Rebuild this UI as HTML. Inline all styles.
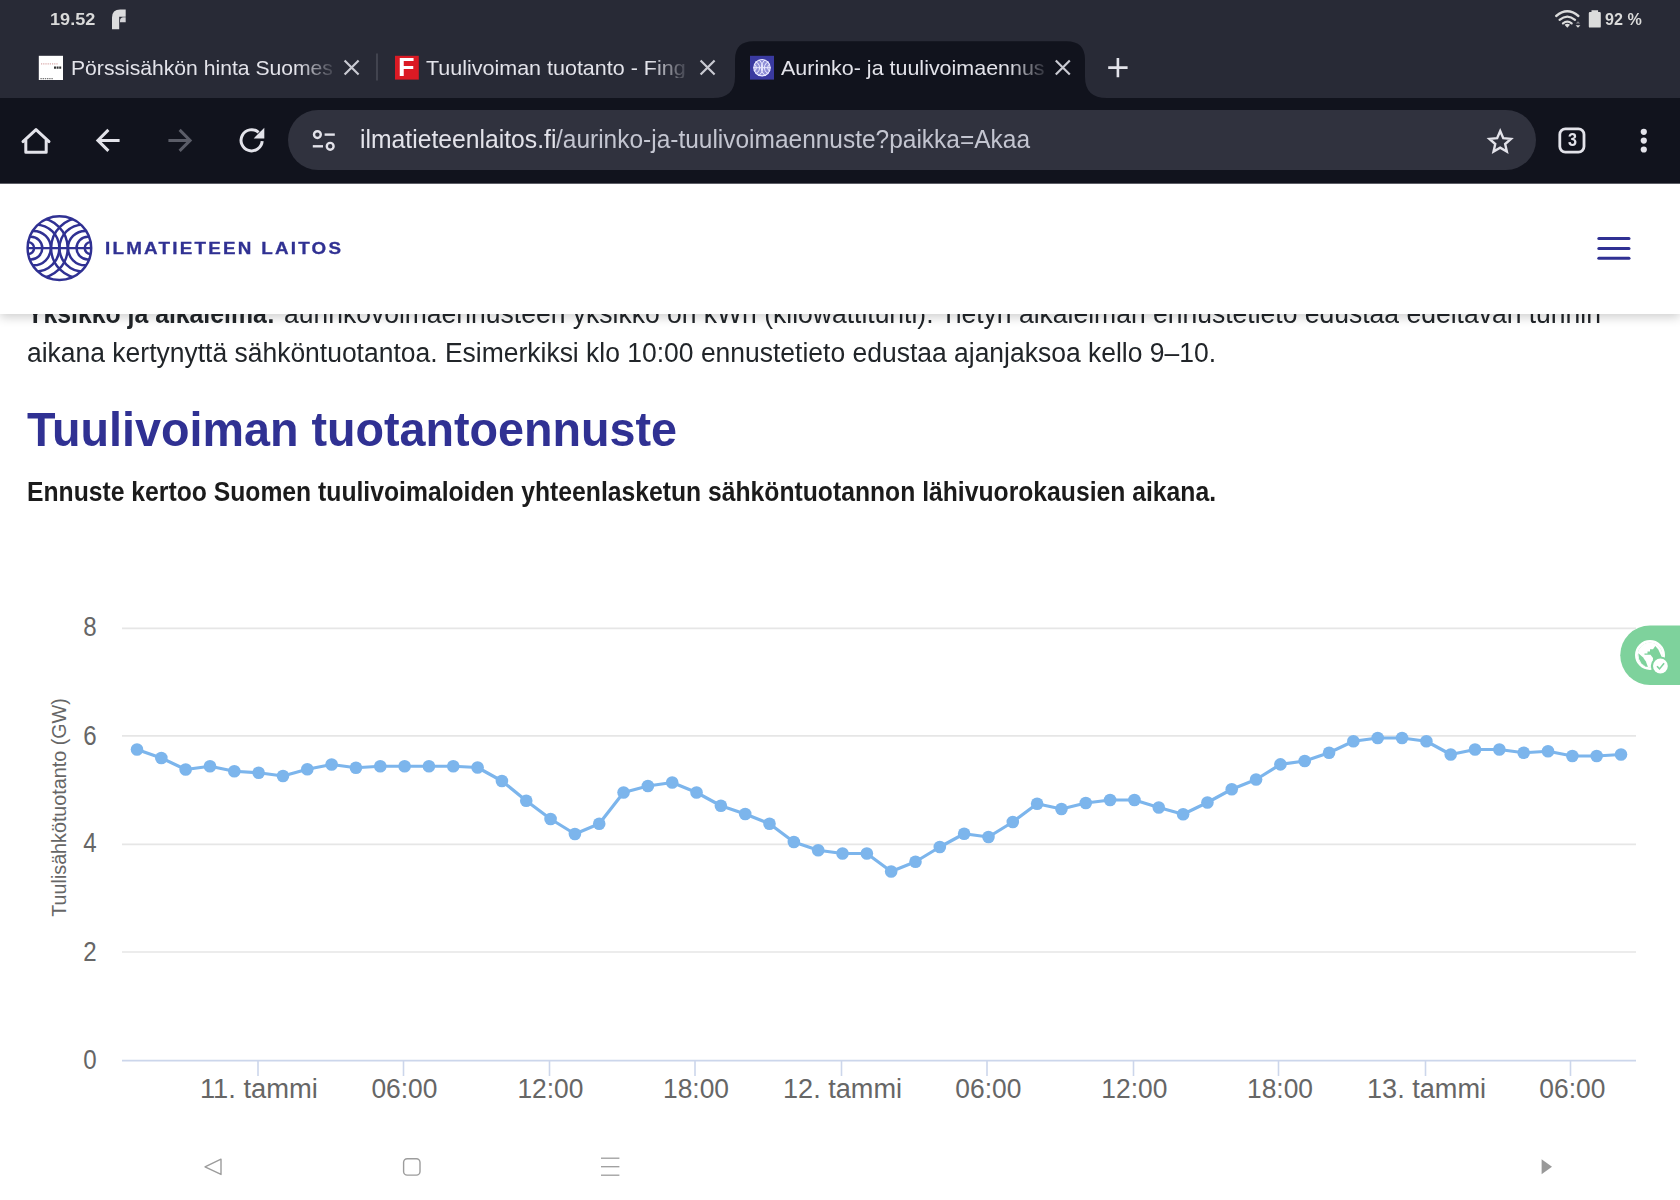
<!DOCTYPE html>
<html lang="fi"><head><meta charset="utf-8"><title>Aurinko- ja tuulivoimaennuste</title>
<style>
html,body{margin:0;padding:0;}
body{width:1680px;height:1200px;overflow:hidden;background:#fff;position:relative;font-family:"Liberation Sans", sans-serif;}
.t{position:absolute;white-space:nowrap;margin:0;padding:0;}
.abs{position:absolute;}
svg{position:absolute;left:0;top:0;overflow:visible;}
</style></head><body>

<div id="l1b" class="t" style="left:27px;top:300.94px;font-size:27px;line-height:27px;color:#212529;font-weight:700;letter-spacing:0px;transform:scaleX(0.9179);transform-origin:0 0;">Yksikkö ja aikaleima:</div>
<div id="l1" class="t" style="left:284px;top:300.94px;font-size:27px;line-height:27px;color:#212529;font-weight:400;letter-spacing:0px;transform:scaleX(0.9815);transform-origin:0 0;">aurinkovoimaennusteen yksikkö on kWh (kilowattitunti). Tietyn aikaleiman ennustetieto edustaa edeltävän tunnin</div>
<div id="l2" class="t" style="left:27px;top:340.04px;font-size:27px;line-height:27px;color:#212529;font-weight:400;letter-spacing:0px;transform:scaleX(0.9804);transform-origin:0 0;">aikana kertynyttä sähköntuotantoa. Esimerkiksi klo 10:00 ennustetieto edustaa ajanjaksoa kello 9–10.</div>
<div id="h2" class="t" style="left:27px;top:406.07px;font-size:48px;line-height:48px;color:#303193;font-weight:700;letter-spacing:0px;transform:scaleX(0.9724);transform-origin:0 0;">Tuulivoiman tuotantoennuste</div>
<div id="sub" class="t" style="left:27px;top:479.34px;font-size:27px;line-height:27px;color:#1b1b1b;font-weight:700;letter-spacing:0px;transform:scaleX(0.9152);transform-origin:0 0;">Ennuste kertoo Suomen tuulivoimaloiden yhteenlasketun sähköntuotannon lähivuorokausien aikana.</div>
<div class="abs" style="left:0;top:183px;width:1680px;height:131px;background:#fff;box-shadow:0 3px 10px rgba(0,0,0,0.2);"></div>
<div id="logo" class="t" style="left:105px;top:240.98px;font-size:16.8px;line-height:16.8px;color:#303193;font-weight:700;letter-spacing:2.0px;transform:scaleX(1.1211);transform-origin:0 0;-webkit-text-stroke:0.3px #303193;">ILMATIETEEN LAITOS</div>
<div class="abs" style="left:0;top:0;width:1680px;height:98px;background:#282a36;"></div>
<div class="abs" style="left:0;top:98px;width:1680px;height:85px;background:#11131d;"></div>
<div class="abs" style="left:0;top:183px;width:1680px;height:1px;background:#5d5e66;"></div>
<div class="abs" style="left:287.6px;top:110.2px;width:1248.2px;height:59.8px;border-radius:30px;background:#30323e;"></div>
<svg width="1680" height="1200" viewBox="0 0 1680 1200">
<path d="M122 628.4H1636" stroke="#e6e6e6" stroke-width="1.6" fill="none"/>
<path d="M122 735.9H1636" stroke="#e6e6e6" stroke-width="1.6" fill="none"/>
<path d="M122 844.4H1636" stroke="#e6e6e6" stroke-width="1.6" fill="none"/>
<path d="M122 952H1636" stroke="#e6e6e6" stroke-width="1.6" fill="none"/>
<path d="M122 1060.6H1636" stroke="#ccd6eb" stroke-width="1.8" fill="none"/>
<path d="M258 1060V1076" stroke="#ccd6eb" stroke-width="1.6" fill="none"/>
<path d="M403.5 1060V1076" stroke="#ccd6eb" stroke-width="1.6" fill="none"/>
<path d="M549.5 1060V1076" stroke="#ccd6eb" stroke-width="1.6" fill="none"/>
<path d="M695 1060V1076" stroke="#ccd6eb" stroke-width="1.6" fill="none"/>
<path d="M841.5 1060V1076" stroke="#ccd6eb" stroke-width="1.6" fill="none"/>
<path d="M987 1060V1076" stroke="#ccd6eb" stroke-width="1.6" fill="none"/>
<path d="M1133.5 1060V1076" stroke="#ccd6eb" stroke-width="1.6" fill="none"/>
<path d="M1278.5 1060V1076" stroke="#ccd6eb" stroke-width="1.6" fill="none"/>
<path d="M1425.5 1060V1076" stroke="#ccd6eb" stroke-width="1.6" fill="none"/>
<path d="M1570.5 1060V1076" stroke="#ccd6eb" stroke-width="1.6" fill="none"/>
<path d="M137.00 749.50 L161.33 758.00 L185.66 769.50 L209.98 766.25 L234.31 771.25 L258.64 772.75 L282.97 776.00 L307.30 769.25 L331.62 764.50 L355.95 767.75 L380.28 766.25 L404.61 766.25 L428.93 766.25 L453.26 766.25 L477.59 767.50 L501.92 781.00 L526.25 800.75 L550.57 819.00 L574.90 834.00 L599.23 823.75 L623.56 792.50 L647.89 786.00 L672.21 782.50 L696.54 792.50 L720.87 805.75 L745.20 814.00 L769.52 823.75 L793.85 842.00 L818.18 850.25 L842.51 853.50 L866.84 853.50 L891.16 871.50 L915.49 861.75 L939.82 847.00 L964.15 833.75 L988.48 837.00 L1012.80 822.00 L1037.13 803.75 L1061.46 809.00 L1085.79 803.00 L1110.11 800.00 L1134.44 800.00 L1158.77 807.50 L1183.10 814.25 L1207.43 802.50 L1231.75 789.25 L1256.08 779.50 L1280.41 764.40 L1304.74 761.00 L1329.07 752.75 L1353.39 741.25 L1377.72 738.00 L1402.05 738.00 L1426.38 741.25 L1450.70 754.50 L1475.03 749.50 L1499.36 749.50 L1523.69 752.75 L1548.02 751.25 L1572.34 756.00 L1596.67 756.00 L1621.00 754.50" stroke="#7cb5ec" stroke-width="3.2" fill="none" stroke-linejoin="round" stroke-linecap="round"/>
<circle cx="137.00" cy="749.50" r="6.3" fill="#7cb5ec"/>
<circle cx="161.33" cy="758.00" r="6.3" fill="#7cb5ec"/>
<circle cx="185.66" cy="769.50" r="6.3" fill="#7cb5ec"/>
<circle cx="209.98" cy="766.25" r="6.3" fill="#7cb5ec"/>
<circle cx="234.31" cy="771.25" r="6.3" fill="#7cb5ec"/>
<circle cx="258.64" cy="772.75" r="6.3" fill="#7cb5ec"/>
<circle cx="282.97" cy="776.00" r="6.3" fill="#7cb5ec"/>
<circle cx="307.30" cy="769.25" r="6.3" fill="#7cb5ec"/>
<circle cx="331.62" cy="764.50" r="6.3" fill="#7cb5ec"/>
<circle cx="355.95" cy="767.75" r="6.3" fill="#7cb5ec"/>
<circle cx="380.28" cy="766.25" r="6.3" fill="#7cb5ec"/>
<circle cx="404.61" cy="766.25" r="6.3" fill="#7cb5ec"/>
<circle cx="428.93" cy="766.25" r="6.3" fill="#7cb5ec"/>
<circle cx="453.26" cy="766.25" r="6.3" fill="#7cb5ec"/>
<circle cx="477.59" cy="767.50" r="6.3" fill="#7cb5ec"/>
<circle cx="501.92" cy="781.00" r="6.3" fill="#7cb5ec"/>
<circle cx="526.25" cy="800.75" r="6.3" fill="#7cb5ec"/>
<circle cx="550.57" cy="819.00" r="6.3" fill="#7cb5ec"/>
<circle cx="574.90" cy="834.00" r="6.3" fill="#7cb5ec"/>
<circle cx="599.23" cy="823.75" r="6.3" fill="#7cb5ec"/>
<circle cx="623.56" cy="792.50" r="6.3" fill="#7cb5ec"/>
<circle cx="647.89" cy="786.00" r="6.3" fill="#7cb5ec"/>
<circle cx="672.21" cy="782.50" r="6.3" fill="#7cb5ec"/>
<circle cx="696.54" cy="792.50" r="6.3" fill="#7cb5ec"/>
<circle cx="720.87" cy="805.75" r="6.3" fill="#7cb5ec"/>
<circle cx="745.20" cy="814.00" r="6.3" fill="#7cb5ec"/>
<circle cx="769.52" cy="823.75" r="6.3" fill="#7cb5ec"/>
<circle cx="793.85" cy="842.00" r="6.3" fill="#7cb5ec"/>
<circle cx="818.18" cy="850.25" r="6.3" fill="#7cb5ec"/>
<circle cx="842.51" cy="853.50" r="6.3" fill="#7cb5ec"/>
<circle cx="866.84" cy="853.50" r="6.3" fill="#7cb5ec"/>
<circle cx="891.16" cy="871.50" r="6.3" fill="#7cb5ec"/>
<circle cx="915.49" cy="861.75" r="6.3" fill="#7cb5ec"/>
<circle cx="939.82" cy="847.00" r="6.3" fill="#7cb5ec"/>
<circle cx="964.15" cy="833.75" r="6.3" fill="#7cb5ec"/>
<circle cx="988.48" cy="837.00" r="6.3" fill="#7cb5ec"/>
<circle cx="1012.80" cy="822.00" r="6.3" fill="#7cb5ec"/>
<circle cx="1037.13" cy="803.75" r="6.3" fill="#7cb5ec"/>
<circle cx="1061.46" cy="809.00" r="6.3" fill="#7cb5ec"/>
<circle cx="1085.79" cy="803.00" r="6.3" fill="#7cb5ec"/>
<circle cx="1110.11" cy="800.00" r="6.3" fill="#7cb5ec"/>
<circle cx="1134.44" cy="800.00" r="6.3" fill="#7cb5ec"/>
<circle cx="1158.77" cy="807.50" r="6.3" fill="#7cb5ec"/>
<circle cx="1183.10" cy="814.25" r="6.3" fill="#7cb5ec"/>
<circle cx="1207.43" cy="802.50" r="6.3" fill="#7cb5ec"/>
<circle cx="1231.75" cy="789.25" r="6.3" fill="#7cb5ec"/>
<circle cx="1256.08" cy="779.50" r="6.3" fill="#7cb5ec"/>
<circle cx="1280.41" cy="764.40" r="6.3" fill="#7cb5ec"/>
<circle cx="1304.74" cy="761.00" r="6.3" fill="#7cb5ec"/>
<circle cx="1329.07" cy="752.75" r="6.3" fill="#7cb5ec"/>
<circle cx="1353.39" cy="741.25" r="6.3" fill="#7cb5ec"/>
<circle cx="1377.72" cy="738.00" r="6.3" fill="#7cb5ec"/>
<circle cx="1402.05" cy="738.00" r="6.3" fill="#7cb5ec"/>
<circle cx="1426.38" cy="741.25" r="6.3" fill="#7cb5ec"/>
<circle cx="1450.70" cy="754.50" r="6.3" fill="#7cb5ec"/>
<circle cx="1475.03" cy="749.50" r="6.3" fill="#7cb5ec"/>
<circle cx="1499.36" cy="749.50" r="6.3" fill="#7cb5ec"/>
<circle cx="1523.69" cy="752.75" r="6.3" fill="#7cb5ec"/>
<circle cx="1548.02" cy="751.25" r="6.3" fill="#7cb5ec"/>
<circle cx="1572.34" cy="756.00" r="6.3" fill="#7cb5ec"/>
<circle cx="1596.67" cy="756.00" r="6.3" fill="#7cb5ec"/>
<circle cx="1621.00" cy="754.50" r="6.3" fill="#7cb5ec"/>
<text x="96.6" y="635.8" font-family='"Liberation Sans", sans-serif' font-size="27.2" fill="#666" text-anchor="end" textLength="13.4" lengthAdjust="spacingAndGlyphs" >8</text>
<text x="96.6" y="744.6" font-family='"Liberation Sans", sans-serif' font-size="27.2" fill="#666" text-anchor="end" textLength="13.4" lengthAdjust="spacingAndGlyphs" >6</text>
<text x="96.6" y="851.8" font-family='"Liberation Sans", sans-serif' font-size="27.2" fill="#666" text-anchor="end" textLength="13.4" lengthAdjust="spacingAndGlyphs" >4</text>
<text x="96.6" y="960.6" font-family='"Liberation Sans", sans-serif' font-size="27.2" fill="#666" text-anchor="end" textLength="13.4" lengthAdjust="spacingAndGlyphs" >2</text>
<text x="96.6" y="1069.2" font-family='"Liberation Sans", sans-serif' font-size="27.2" fill="#666" text-anchor="end" textLength="13.4" lengthAdjust="spacingAndGlyphs" >0</text>
<text x="258.9" y="1098" font-family='"Liberation Sans", sans-serif' font-size="26.8" fill="#666" text-anchor="middle" textLength="118" lengthAdjust="spacingAndGlyphs" >11. tammi</text>
<text x="404.4" y="1098" font-family='"Liberation Sans", sans-serif' font-size="26.8" fill="#666" text-anchor="middle" textLength="66" lengthAdjust="spacingAndGlyphs" >06:00</text>
<text x="550.4" y="1098" font-family='"Liberation Sans", sans-serif' font-size="26.8" fill="#666" text-anchor="middle" textLength="66" lengthAdjust="spacingAndGlyphs" >12:00</text>
<text x="696" y="1098" font-family='"Liberation Sans", sans-serif' font-size="26.8" fill="#666" text-anchor="middle" textLength="66" lengthAdjust="spacingAndGlyphs" >18:00</text>
<text x="842.5" y="1098" font-family='"Liberation Sans", sans-serif' font-size="26.8" fill="#666" text-anchor="middle" textLength="119" lengthAdjust="spacingAndGlyphs" >12. tammi</text>
<text x="988.3" y="1098" font-family='"Liberation Sans", sans-serif' font-size="26.8" fill="#666" text-anchor="middle" textLength="66" lengthAdjust="spacingAndGlyphs" >06:00</text>
<text x="1134.3" y="1098" font-family='"Liberation Sans", sans-serif' font-size="26.8" fill="#666" text-anchor="middle" textLength="66" lengthAdjust="spacingAndGlyphs" >12:00</text>
<text x="1280" y="1098" font-family='"Liberation Sans", sans-serif' font-size="26.8" fill="#666" text-anchor="middle" textLength="66" lengthAdjust="spacingAndGlyphs" >18:00</text>
<text x="1426.5" y="1098" font-family='"Liberation Sans", sans-serif' font-size="26.8" fill="#666" text-anchor="middle" textLength="119" lengthAdjust="spacingAndGlyphs" >13. tammi</text>
<text x="1572.3" y="1098" font-family='"Liberation Sans", sans-serif' font-size="26.8" fill="#666" text-anchor="middle" textLength="66" lengthAdjust="spacingAndGlyphs" >06:00</text>
<text transform="translate(66,807.5) rotate(-90)" font-family='"Liberation Sans", sans-serif' font-size="21" fill="#666" text-anchor="middle" textLength="218.5" lengthAdjust="spacingAndGlyphs">Tuulisähkötuotanto (GW)</text>
<path d="M1680 625.4H1650a29.8 29.8 0 0 0 0 59.6H1680Z" fill="#7ed29c"/>
<circle cx="1650" cy="655" r="13.6" fill="none" stroke="#fff" stroke-width="2.8"/>
<circle cx="1650" cy="655" r="12.4" fill="#fff"/>
<path d="M1644.5 653.5h3v-2h2.5v-2.2h3l2.3-3.2 3 3.5 3.2 6.8v4l-4.5 1-4 4.8v-8.2l-2.5-3.2h-6z" fill="#7ed29c"/>
<path d="M1638.3 653.3l4.6 4 3 4.2 2 5.6-2.5-.7-4-3.2-2.4-4.2z" fill="#7ed29c"/>
<circle cx="1660.4" cy="666" r="9.6" fill="#7ed29c"/>
<circle cx="1660.4" cy="666" r="7.4" fill="#fff"/>
<path d="M1657 666.3l2.5 2.6 4.6-5.6" stroke="#7ed29c" stroke-width="1.6" fill="none"/>
<clipPath id="lc"><circle cx="59.4" cy="248.1" r="31.8"/></clipPath>
<g fill="none" stroke="#303193" stroke-width="2.45">
<circle cx="59.4" cy="248.1" r="31.8"/>
<g clip-path="url(#lc)">
<path d="M27.599999999999998 248.1H91.2"/>
<circle cx="28.1" cy="248.1" r="6.0"/>
<circle cx="90.70" cy="248.1" r="6.0"/>
<circle cx="31.0" cy="248.1" r="11.3"/>
<circle cx="87.80" cy="248.1" r="11.3"/>
<circle cx="33.6" cy="248.1" r="17.2"/>
<circle cx="85.20" cy="248.1" r="17.2"/>
<circle cx="35.8" cy="248.1" r="23.5"/>
<circle cx="83.00" cy="248.1" r="23.5"/>
<circle cx="37.6" cy="248.1" r="30.1"/>
<circle cx="81.20" cy="248.1" r="30.1"/>
</g></g>
<path d="M1598.8 238.5H1629" stroke="#303193" stroke-width="3" stroke-linecap="round"/>
<path d="M1598.8 248.4H1629" stroke="#303193" stroke-width="3" stroke-linecap="round"/>
<path d="M1598.8 258.3H1629" stroke="#303193" stroke-width="3" stroke-linecap="round"/>
<path d="M221 1159.2L205 1166.8L221 1174.4Z" fill="none" stroke="#9c9c9c" stroke-width="1.4" stroke-linejoin="round"/>
<rect x="403.6" y="1158.7" width="16.4" height="16.4" rx="3.6" fill="none" stroke="#9c9c9c" stroke-width="1.4"/>
<path d="M601 1158.2H619.4" stroke="#9c9c9c" stroke-width="1.3"/>
<path d="M601 1166.7H619.4" stroke="#9c9c9c" stroke-width="1.3"/>
<path d="M601 1175.2H619.4" stroke="#9c9c9c" stroke-width="1.3"/>
<path d="M1541.6 1159.2V1174.2L1552 1166.7Z" fill="#999"/>
<path d="M713 98 Q735 98 735 77 V59.5 Q735 41.3 753.5 41.3 H1066.5 Q1085 41.3 1085 59.5 V77 Q1085 98 1107 98 Z" fill="#11131d"/>
<path d="M377 53.5V80.5" stroke="#454753" stroke-width="1.8"/>
<path d="M344.6 60.5L358.6 74.5M358.6 60.5L344.6 74.5" stroke="#c9cad2" stroke-width="2.2" fill="none"/>
<path d="M700.6 60.5L714.6 74.5M714.6 60.5L700.6 74.5" stroke="#c9cad2" stroke-width="2.2" fill="none"/>
<path d="M1055.8 60.5L1069.8 74.5M1069.8 60.5L1055.8 74.5" stroke="#c9cad2" stroke-width="2.2" fill="none"/>
<path d="M1108.2 67.6H1127.6M1117.9 57.9V77.3" stroke="#e3e3ea" stroke-width="2.6" fill="none"/>
<rect x="38.8" y="55.8" width="24.2" height="24.2" fill="#fff"/>
<path d="M41 63.8h17" stroke="#d9a9a9" stroke-width="1.3" stroke-dasharray="1.2 1"/><path d="M54 67.6h7.6" stroke="#333" stroke-width="2.4" stroke-dasharray="2 0.6"/><path d="M40.4 78.6h13" stroke="#777" stroke-width="1.2" stroke-dasharray="1.4 0.8"/>
<rect x="395" y="55.8" width="23.8" height="23.8" fill="#db1a24"/>
<rect x="750" y="55.8" width="24" height="23.8" fill="#3a3aa0"/>
<clipPath id="fc"><circle cx="762" cy="67.7" r="8.8"/></clipPath>
<circle cx="762" cy="67.7" r="8.8" fill="#8e8ed6"/>
<g fill="none" stroke="#ebebff" stroke-width="1" clip-path="url(#fc)"><circle cx="762" cy="67.7" r="8.3" stroke-width="1.4"/><path d="M753.4 67.7H770.6"/><circle cx="753" cy="67.7" r="3.4"/><circle cx="753" cy="67.7" r="6.6"/><circle cx="753" cy="67.7" r="9.8"/><circle cx="771" cy="67.7" r="3.4"/><circle cx="771" cy="67.7" r="6.6"/><circle cx="771" cy="67.7" r="9.8"/></g>
<path d="M112 29.2V17.6Q112 9.5 120.2 9.5H125.7V16.7H119.2V29.2Z" fill="#dcdcde"/><path d="M120 22.3V21Q120 17.3 123.6 17.3H125.7V22.3Z" fill="#d4d4d8"/>
<g fill="none" stroke="#dcdcdc" stroke-width="2.3" stroke-linecap="round"><path d="M1556.2 16Q1567.3 6.6 1578.4 16"/><path d="M1559.6 19.8Q1567.3 13.4 1575 19.8"/><path d="M1563 23.4Q1567.3 19.9 1571.6 23.4"/></g><path d="M1564.6 24.8L1567.3 27.7L1570 24.8Q1567.3 22.8 1564.6 24.8Z" fill="#dcdcdc"/><path d="M1575.6 25.2h4.8l-2.4 2.5z" fill="#dcdcdc"/><path d="M1575.8 23.4h4.4l-2.2-2.2z" fill="#85858c"/>
<path d="M1591.5 10.3h6.6v1.7h1.6q1.1 0 1.1 1.2v13.2q0 1.2-1.1 1.2h-9.8q-1.1 0-1.1-1.2V13.2q0-1.2 1.1-1.2h1.6z" fill="#dcdcdc"/>
<path d="M25.8 140V152.3H46.2V140" fill="none" stroke="#e3e3ea" stroke-width="3" stroke-linejoin="round"/>
<path d="M23 141.6L36 129.6L49 141.6" fill="none" stroke="#e3e3ea" stroke-width="3" stroke-linejoin="round" stroke-linecap="round"/>
<path d="M119.6 140.4H98.6M108.4 129.9L97.9 140.4L108.4 150.9" fill="none" stroke="#e3e3ea" stroke-width="3"/>
<path d="M168.4 140.4H189.4M179.6 129.9L190.1 140.4L179.6 150.9" fill="none" stroke="#5b5d68" stroke-width="3"/>
<path d="M262.2 141.2A10.6 10.6 0 1 1 258.6 132.3" fill="none" stroke="#e3e3ea" stroke-width="3"/><path d="M264.3 127.8V138.4H253.7Z" fill="#e3e3ea"/>
<g fill="none" stroke="#e3e3ea" stroke-width="2.4"><circle cx="317.4" cy="134.6" r="3.4"/><path d="M324.6 134.6H334.8"/><circle cx="330.2" cy="146.3" r="3.4"/><path d="M312.8 146.3H323"/></g>
<path d="M1500.20 131.10L1503.26 138.19L1510.95 138.91L1505.15 144.01L1506.84 151.54L1500.20 147.60L1493.56 151.54L1495.25 144.01L1489.45 138.91L1497.14 138.19Z" fill="none" stroke="#e3e3ea" stroke-width="2.4" stroke-linejoin="miter"/>
<rect x="1559.8" y="128.9" width="24.2" height="23.2" rx="5.6" fill="none" stroke="#e3e3ea" stroke-width="2.8"/>
<circle cx="1643.8" cy="131.8" r="3.1" fill="#e3e3ea"/>
<circle cx="1643.8" cy="140.6" r="3.1" fill="#e3e3ea"/>
<circle cx="1643.8" cy="149.5" r="3.1" fill="#e3e3ea"/>
</svg>
<div id="time" class="t" style="left:50.2px;top:11.68px;font-size:16.8px;line-height:16.8px;color:#dadada;font-weight:700;letter-spacing:0px;transform:scaleX(1.0786);transform-origin:0 0;">19.52</div>
<div id="batt" class="t" style="left:1605px;top:11.41px;font-size:17px;line-height:17px;color:#dadada;font-weight:700;letter-spacing:0px;transform:scaleX(0.9471);transform-origin:0 0;">92 %</div>
<div id="tab1" class="t" style="left:70.6px;top:57.86px;font-size:20.6px;line-height:20.6px;color:#e3e3ea;font-weight:400;letter-spacing:0px;transform:scaleX(1.0259);transform-origin:0 0;-webkit-mask-image:linear-gradient(to right,#000 calc(100% - 34px),rgba(0,0,0,0.15) 100%);mask-image:linear-gradient(to right,#000 calc(100% - 34px),rgba(0,0,0,0.15) 100%);">Pörssisähkön hinta Suomes</div>
<div id="tab2" class="t" style="left:426.4px;top:57.86px;font-size:20.6px;line-height:20.6px;color:#e3e3ea;font-weight:400;letter-spacing:0px;transform:scaleX(1.0435);transform-origin:0 0;-webkit-mask-image:linear-gradient(to right,#000 calc(100% - 34px),rgba(0,0,0,0.15) 100%);mask-image:linear-gradient(to right,#000 calc(100% - 34px),rgba(0,0,0,0.15) 100%);">Tuulivoiman tuotanto - Fing</div>
<div id="tab3" class="t" style="left:781.4px;top:58.26px;font-size:20.6px;line-height:20.6px;color:#e3e3ea;font-weight:400;letter-spacing:0px;transform:scaleX(1.0420);transform-origin:0 0;-webkit-mask-image:linear-gradient(to right,#000 calc(100% - 34px),rgba(0,0,0,0.15) 100%);mask-image:linear-gradient(to right,#000 calc(100% - 34px),rgba(0,0,0,0.15) 100%);">Aurinko- ja tuulivoimaennus</div>
<div id="url1" class="t" style="left:359.6px;top:127.44px;font-size:25px;line-height:25px;color:#e3e3ea;font-weight:400;letter-spacing:0px;transform:scaleX(0.9883);transform-origin:0 0;">ilmatieteenlaitos.fi</div>
<div id="url2" class="t" style="left:556px;top:127.44px;font-size:25px;line-height:25px;color:#c3c5d0;font-weight:400;letter-spacing:0px;transform:scaleX(0.9787);transform-origin:0 0;">/aurinko-ja-tuulivoimaennuste?paikka=Akaa</div>
<div id="tabn" class="t" style="left:1567.6px;top:131.26px;font-size:18px;line-height:18px;color:#e3e3ea;font-weight:700;letter-spacing:0px;transform:scaleX(0.8986);transform-origin:0 0;">3</div>
<div class="t" style="left:398.4px;top:55.3px;font-size:25px;line-height:25px;font-weight:700;color:#fff;transform:scaleX(1.08);transform-origin:0 0;">F</div>
</body></html>
